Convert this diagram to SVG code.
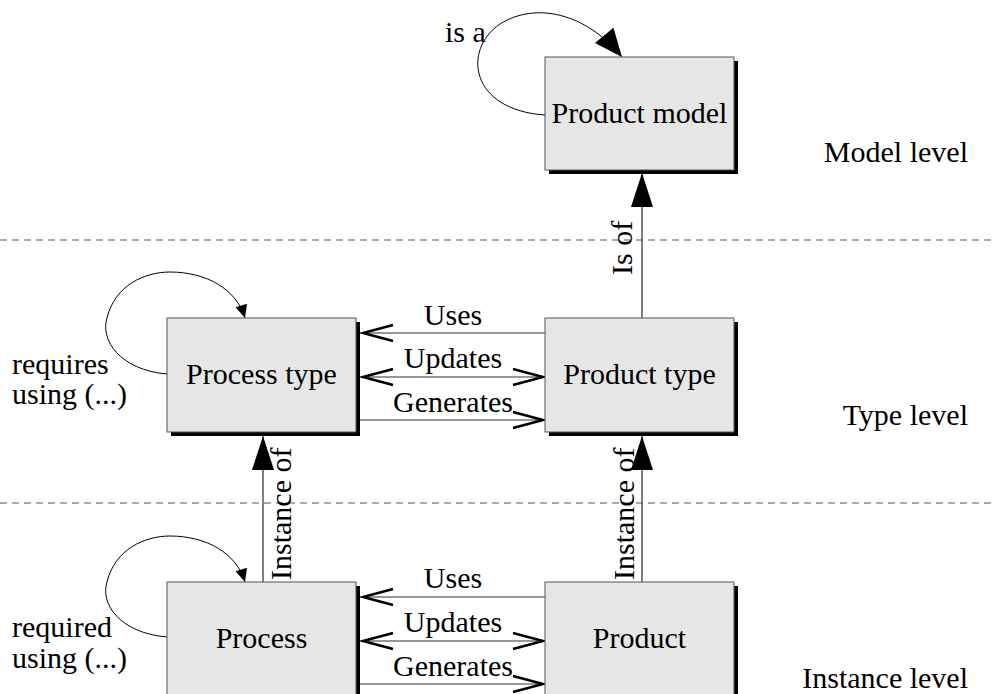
<svg xmlns="http://www.w3.org/2000/svg" width="994" height="694" viewBox="0 0 994 694">
<style>
text{font-family:"Liberation Serif","Times New Roman",serif;font-size:30px;fill:#000}
.box{fill:#e6e6e6;stroke:#555;stroke-width:1}
.shadow{fill:#000}
.mid{text-anchor:middle}
.end{text-anchor:end}
.dash{stroke:#555;stroke-width:1;stroke-dasharray:7 5;fill:none}
.h{stroke:#333;stroke-width:1.2;fill:none}
.v{stroke:#555;stroke-width:1.5;fill:none}
.loop{stroke:#000;stroke-width:1;fill:none}
</style>
<defs>
<marker id="big" markerUnits="userSpaceOnUse" markerWidth="36" markerHeight="24" refX="34" refY="11" orient="auto" overflow="visible">
<path d="M0,0 L34,11 L0,22 Z" fill="#000"/>
</marker>
<marker id="isa" markerUnits="userSpaceOnUse" markerWidth="30" markerHeight="26" refX="28" refY="12" orient="auto" overflow="visible">
<path d="M0,0 L28,12 L0,24 Z" fill="#000"/>
</marker>
<marker id="small" markerUnits="userSpaceOnUse" markerWidth="14" markerHeight="13" refX="13" refY="6" orient="auto" overflow="visible">
<path d="M0,0 L13,6 L0,12 Z" fill="#000"/>
</marker>
<marker id="open" markerUnits="userSpaceOnUse" markerWidth="32" markerHeight="18" refX="30" refY="8" orient="auto-start-reverse" overflow="visible">
<path d="M0,0 L30,8 L0,16" fill="none" stroke="#000" stroke-width="2.5"/>
</marker>
</defs>

<g id="level-lines">
<line class="dash" x1="0" y1="240" x2="994" y2="240"/>
<line class="dash" x1="0" y1="503" x2="994" y2="503"/>
</g>

<g id="connectors">
<!-- is a -->
<path class="loop" d="M545,115 C470,110 462,50 500,24 C535,2 585,12 622,57" marker-end="url(#isa)"/>
<!-- requires using -->
<path class="loop" d="M167,374 C120,370 100,340 107,318 C115,285 145,272 170,272 C205,272 236,288 245,318" marker-end="url(#small)"/>
<!-- required using -->
<path class="loop" d="M167,637 C120,633 100,604 107,582 C115,549 145,536 170,536 C205,536 236,552 245,582" marker-end="url(#small)"/>
<!-- Is of -->
<line class="v" x1="642" y1="318" x2="642" y2="173" marker-end="url(#big)"/>
<!-- Instance of -->
<line class="v" x1="263" y1="582" x2="263" y2="436" marker-end="url(#big)"/>
<line class="v" x1="642" y1="582" x2="642" y2="436" marker-end="url(#big)"/>
<!-- type level -->
<line class="h" x1="545" y1="333" x2="363" y2="333" marker-end="url(#open)"/>
<line class="h" x1="363" y1="377" x2="543" y2="377" marker-start="url(#open)" marker-end="url(#open)"/>
<line class="h" x1="360" y1="420" x2="543" y2="420" marker-end="url(#open)"/>
<!-- instance level -->
<line class="h" x1="545" y1="597" x2="363" y2="597" marker-end="url(#open)"/>
<line class="h" x1="363" y1="641" x2="543" y2="641" marker-start="url(#open)" marker-end="url(#open)"/>
<line class="h" x1="360" y1="684" x2="543" y2="684" marker-end="url(#open)"/>
</g>

<g id="connector-labels">
<text x="445" y="42">is a</text>
<text x="12" y="374">requires</text>
<text x="12" y="404">using (...)</text>
<text x="12" y="637">required</text>
<text x="12" y="668">using (...)</text>
<text transform="translate(632,275) rotate(-90)">Is of</text>
<text transform="translate(291,580) rotate(-90)">Instance of</text>
<text transform="translate(634,580) rotate(-90)">Instance of</text>
<text class="mid" x="453" y="325">Uses</text>
<text class="mid" x="453" y="368">Updates</text>
<text class="mid" x="453" y="412">Generates</text>
<text class="mid" x="453" y="588">Uses</text>
<text class="mid" x="453" y="632">Updates</text>
<text class="mid" x="453" y="676">Generates</text>
</g>

<g id="product-model">
<rect class="shadow" x="549" y="61" width="189" height="113"/>
<rect class="box" x="545" y="57" width="189" height="113"/>
<text class="mid" x="639.5" y="123">Product model</text>
</g>
<g id="process-type">
<rect class="shadow" x="171" y="322" width="189" height="114"/>
<rect class="box" x="167" y="318" width="189" height="114"/>
<text class="mid" x="261.5" y="384">Process type</text>
</g>
<g id="product-type">
<rect class="shadow" x="549" y="322" width="189" height="114"/>
<rect class="box" x="545" y="318" width="189" height="114"/>
<text class="mid" x="639.5" y="384">Product type</text>
</g>
<g id="process">
<rect class="shadow" x="171" y="586" width="189" height="114"/>
<rect class="box" x="167" y="582" width="189" height="114"/>
<text class="mid" x="261.5" y="648">Process</text>
</g>
<g id="product">
<rect class="shadow" x="549" y="586" width="189" height="114"/>
<rect class="box" x="545" y="582" width="189" height="114"/>
<text class="mid" x="639.5" y="648">Product</text>
</g>

<g id="level-labels">
<text class="end" x="968" y="162">Model level</text>
<text class="end" x="968" y="425">Type level</text>
<text class="end" x="968" y="688">Instance level</text>
</g>
</svg>
